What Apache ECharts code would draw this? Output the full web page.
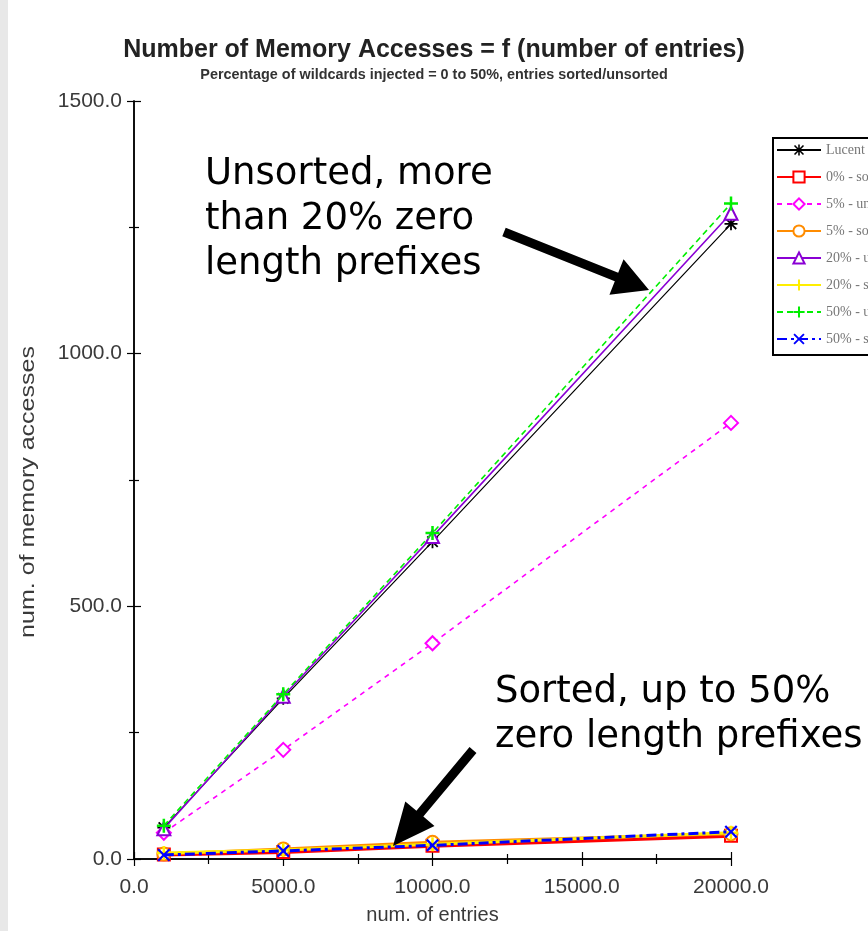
<!DOCTYPE html>
<html><head><meta charset="utf-8">
<script src="https://cdn.jsdelivr.net/npm/echarts@6/dist/echarts.min.js"></script>
<style>html,body{margin:0;padding:0;background:#fff}#c{width:868px;height:931px}</style>
</head><body><div id="c"></div><script>
const entries = [1000, 5000, 10000, 20000];
const seriesNames = ['Lucent', '0% - sorted', '5% - unsorted', '5% - sorted', '20% - unsorted', '20% - sorted', '50% - unsorted', '50% - sorted'];
const lucent = [62, 318, 628, 1257];
const pct0 = [9, 14, 26, 46];
const pct5Unsorted = [52, 216, 427, 863];
const pct5Sorted = [10, 20, 33, 50];
const pct20Unsorted = [60, 322, 638, 1278];
const pct20Sorted = [12, 18, 29, 52];
const pct50Unsorted = [66, 326, 645, 1297];
const pct50Sorted = [8, 16, 27, 54];
const titleText = 'Number of Memory Accesses = f (number of entries)';
const subtitleText = 'Percentage of wildcards injected = 0 to 50%, entries sorted/unsorted';
const xName = 'num. of entries';
const yName = 'num. of memory accesses';
const note1 = 'Unsorted, more\nthan 20% zero\nlength prefixes';
const note2 = 'Sorted, up to 50%\nzero length prefixes';

const PLUS = 'path://M4.1,0H5.9V4.1H10V5.9H5.9V10H4.1V5.9H0V4.1H4.1Z';
const CROSS = 'path://M0,1.2L1.2,0L5,3.8L8.8,0L10,1.2L6.2,5L10,8.8L8.8,10L5,6.2L1.2,10L0,8.8L3.8,5Z';
const STAR = 'path://M4.3,0H5.7V4.3H10V5.7H5.7V10H4.3V5.7H0V4.3H4.3Z M0.5,1.5L1.5,0.5L5,4L8.5,0.5L9.5,1.5L6,5L9.5,8.5L8.5,9.5L5,6L1.5,9.5L0.5,8.5L4,5Z';

const defs = [
  {d: lucent, color: '#000000', symbol: STAR, width: 1.2, type: 'solid', size: 13},
  {d: pct0, color: '#ff0000', symbol: 'emptyRect', width: 4, type: 'solid', size: 12},
  {d: pct5Unsorted, color: '#ff00ff', symbol: 'emptyDiamond', width: 1.6, type: [5, 5], size: 14},
  {d: pct5Sorted, color: '#ff8c00', symbol: 'emptyCircle', width: 3, type: 'solid', size: 13},
  {d: pct20Unsorted, color: '#8a00d4', symbol: 'emptyTriangle', width: 1.6, type: 'solid', size: 13},
  {d: pct20Sorted, color: '#ffee00', symbol: PLUS, width: 3, type: 'solid', size: 14},
  {d: pct50Unsorted, color: '#00ee00', symbol: PLUS, width: 1.6, type: [6, 4], size: 14},
  {d: pct50Sorted, color: '#0000ff', symbol: CROSS, width: 3, type: [10, 4, 3, 4], size: 13}
];

function arrow(x1, y1, x2, y2, sw, hl, hw) {
  const dx = x2 - x1, dy = y2 - y1, L = Math.hypot(dx, dy);
  const ux = dx / L, uy = dy / L, nx = -uy, ny = ux;
  const bx = x2 - ux * hl, by = y2 - uy * hl;
  return [
    [x1 + nx * sw, y1 + ny * sw], [bx + nx * sw, by + ny * sw], [bx + nx * hw, by + ny * hw],
    [x2, y2], [bx - nx * hw, by - ny * hw], [bx - nx * sw, by - ny * sw], [x1 - nx * sw, y1 - ny * sw]
  ];
}

const chart = echarts.init(document.getElementById('c'), null, {renderer: 'canvas'});
const axisCommon = {
  type: 'value',
  axisLine: {show: true, lineStyle: {color: '#000', width: 1.5}},
  axisTick: {show: true, inside: true, length: 7, lineStyle: {color: '#000', width: 1.2}},
  minorTick: {show: true, splitNumber: 2, length: 5, lineStyle: {color: '#000', width: 1.2}},
  splitLine: {show: false}
};
const labelStyle = {color: '#3a3a3a', fontFamily: 'Liberation Sans', fontSize: 21, formatter: v => v.toFixed(1)};

chart.setOption({
  animation: false,
  backgroundColor: '#ffffff',
  grid: {left: 134, right: 137, top: 101, bottom: 72},
  legend: {
    orient: 'vertical', left: 773, top: 138, itemWidth: 44, itemHeight: 14, itemGap: 13,
    padding: [5, 10, 9, 3], borderColor: '#000', borderWidth: 2, backgroundColor: '#fff',
    selectedMode: false,
    textStyle: {fontFamily: 'Liberation Serif', fontSize: 14, color: '#777'},
    data: seriesNames
  },
  xAxis: [
    Object.assign({}, axisCommon, {position: 'bottom', min: 0, max: 20000, interval: 5000,
      axisLabel: Object.assign({margin: 18}, labelStyle),
      name: xName, nameLocation: 'middle', nameGap: 46,
      nameTextStyle: {color: '#3a3a3a', fontFamily: 'Liberation Sans', fontSize: 20}}),
    Object.assign({}, axisCommon, {position: 'top', min: 0, max: 20000, interval: 5000, axisLabel: {show: false}})
  ],
  yAxis: [
    Object.assign({}, axisCommon, {position: 'left', min: 0, max: 1500, interval: 500,
      axisLabel: Object.assign({margin: 12}, labelStyle)}),
    Object.assign({}, axisCommon, {position: 'right', min: 0, max: 1500, interval: 500, axisLabel: {show: false}})
  ],
  series: defs.map((s, i) => ({
    name: seriesNames[i],
    type: 'line',
    xAxisIndex: 0, yAxisIndex: 0,
    data: entries.map((x, k) => [x, s.d[k]]),
    symbol: s.symbol,
    symbolSize: s.size,
    showAllSymbol: true,
    itemStyle: {color: s.color, borderWidth: 2},
    lineStyle: {color: s.color, width: s.width, type: s.type},
    emphasis: {disabled: true},
    z: 2 + i
  })),
  graphic: [
    {type: 'rect', shape: {x: 0, y: 0, width: 8, height: 931}, style: {fill: '#e8e8e8'}, z: 0},
    {type: 'text', x: 434, y: 50, style: {text: titleText, font: 'bold 25px "Liberation Sans"', fill: '#222', align: 'center', verticalAlign: 'middle'}},
    {type: 'text', x: 434, y: 75, style: {text: subtitleText, font: 'bold 14.4px "Liberation Sans"', fill: '#333', align: 'center', verticalAlign: 'middle'}},
    {type: 'text', x: 28, y: 492, rotation: Math.PI / 2, scaleX: 1.25, style: {text: yName, font: '20px "Liberation Sans"', fill: '#3a3a3a', align: 'center', verticalAlign: 'middle'}},
    {type: 'text', x: 205, y: 152, style: {text: note1, font: '37px "DejaVu Sans"', lineHeight: 45, fill: '#000', align: 'left', verticalAlign: 'top'}, z: 100},
    {type: 'text', x: 495, y: 670, style: {text: note2, font: '37px "DejaVu Sans"', lineHeight: 45, fill: '#000', align: 'left', verticalAlign: 'top'}, z: 100},
    {type: 'polygon', shape: {points: arrow(504, 232, 649, 290, 4.6, 35, 19)}, style: {fill: '#000'}, z: 100},
    {type: 'polygon', shape: {points: arrow(473, 750, 393, 846, 4.5, 42, 19)}, style: {fill: '#000'}, z: 100}
  ]
});
</script></body></html>
